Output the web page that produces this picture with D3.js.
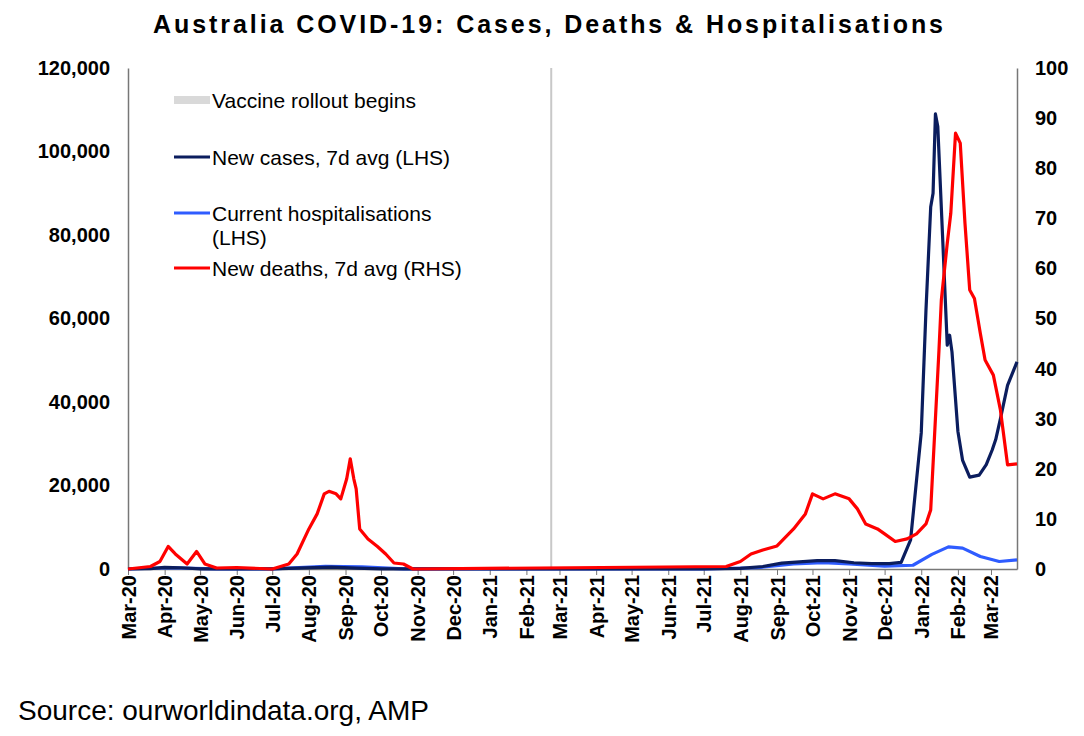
<!DOCTYPE html>
<html><head><meta charset="utf-8">
<script src="https://cdn.jsdelivr.net/npm/d3@7"></script>
<style>body{margin:0;background:#fff;font-family:Arial,"Liberation Sans",sans-serif}</style>
</head><body><svg id="c" width="1084" height="736"></svg>
<script>
// new cases, 7d avg (LHS)
const caseDates = ["2020-03-01","2020-03-20","2020-04-01","2020-04-15","2020-05-01","2020-07-01","2020-08-05","2020-08-20","2020-09-10","2020-10-01","2021-07-01","2021-08-01","2021-08-20","2021-09-05","2021-09-20","2021-10-05","2021-10-20","2021-11-05","2021-11-20","2021-12-05","2021-12-15","2021-12-23","2022-01-01","2022-01-05","2022-01-09","2022-01-11","2022-01-13","2022-01-15","2022-01-19","2022-01-23","2022-01-25","2022-01-27","2022-02-01","2022-02-05","2022-02-11","2022-02-19","2022-02-25","2022-03-02","2022-03-05","2022-03-09","2022-03-15","2022-03-23"];
const caseValues = [0,100,400,300,50,50,350,450,200,20,30,150,600,1400,1700,2000,2000,1500,1300,1300,1600,7000,32600,62000,86700,90000,109000,106000,80000,53600,56000,52000,33000,26000,22000,22500,25000,28500,31000,36000,44000,49600];
// current hospitalisations (LHS)
const hospDates = ["2020-03-01","2020-04-05","2020-05-15","2020-07-01","2020-08-15","2020-09-15","2020-10-20","2021-07-01","2021-08-15","2021-09-15","2021-10-10","2021-11-01","2021-12-01","2021-12-25","2022-01-10","2022-01-24","2022-02-05","2022-02-20","2022-03-08","2022-03-23"];
const hospValues = [0,300,50,50,650,500,50,50,300,1200,1500,1200,700,900,3500,5300,5000,3000,1800,2200];
// new deaths, 7d avg (RHS)
const deathDates = ["2020-03-01","2020-03-20","2020-03-28","2020-04-04","2020-04-10","2020-04-20","2020-04-28","2020-05-05","2020-05-15","2020-06-01","2020-07-01","2020-07-15","2020-07-22","2020-08-01","2020-08-08","2020-08-14","2020-08-18","2020-08-24","2020-08-28","2020-09-02","2020-09-05","2020-09-08","2020-09-10","2020-09-13","2020-09-20","2020-09-28","2020-10-05","2020-10-12","2020-10-20","2020-10-28","2021-07-20","2021-08-01","2021-08-10","2021-08-20","2021-09-01","2021-09-15","2021-09-25","2021-10-01","2021-10-10","2021-10-20","2021-11-01","2021-11-08","2021-11-15","2021-11-25","2021-12-01","2021-12-10","2021-12-20","2021-12-28","2022-01-05","2022-01-09","2022-01-16","2022-01-18","2022-01-23","2022-01-26","2022-01-30","2022-02-03","2022-02-07","2022-02-11","2022-02-15","2022-02-20","2022-02-24","2022-03-03","2022-03-09","2022-03-15","2022-03-23"];
const deathValues = [0,0.5,1.5,4.5,3,1,3.5,1,0.2,0.3,0,1,3,8,11,15,15.5,15,14,18,22,18,16,8,6,4.5,3,1.2,1,0,0.5,1.5,3,3.8,4.6,8,11,15,14,15,14,12,9,8,7,5.5,6,7,9,11.8,43.7,53.7,65,71,87,85,69,55.7,54,47,41.7,38.7,31.7,20.8,21];

const leftTicks = [0,20000,40000,60000,80000,100000,120000];
const rightTicks = [0,10,20,30,40,50,60,70,80,90,100];
const vaccineDate = "2021-02-22";

const parse = d3.timeParse("%Y-%m-%d");
const svg = d3.select("#c");
const L = 128, R = 1017, T = 68, B = 569;
const FONT = "Arial, Liberation Sans, sans-serif";

const x = d3.scaleTime().domain([parse("2020-03-01"), parse("2022-03-23")]).range([L, R]);
const yL = d3.scaleLinear().domain([0, 120000]).range([B, T]);
const yR = d3.scaleLinear().domain([0, 100]).range([B, T]);

svg.append("text").attr("x", 153).attr("y", 33)
  .attr("font-size", 25).attr("font-weight", "bold").attr("textLength", 790).attr("lengthAdjust", "spacing")
  .text("Australia COVID-19: Cases, Deaths & Hospitalisations");

// vaccine line
svg.append("line").attr("x1", x(parse(vaccineDate))).attr("x2", x(parse(vaccineDate)))
  .attr("y1", T).attr("y2", B).attr("stroke", "#c8c8c8").attr("stroke-width", 2);

const months = d3.timeMonth.range(parse("2020-03-01"), parse("2022-03-24"));
const xAxis = svg.append("g").attr("transform", `translate(0,${B})`)
  .call(d3.axisBottom(x).tickValues(months).tickFormat(d3.timeFormat("%b-%y")).tickSize(6).tickSizeOuter(0));
xAxis.selectAll("text").attr("transform", "rotate(-90)").attr("text-anchor", "end")
  .attr("x", -6).attr("y", 0).attr("dy", "0.35em").attr("font-size", 20).attr("font-weight", "bold")
  .attr("font-family", FONT).attr("fill", "#000");

const left = svg.append("g").attr("transform", `translate(${L},0)`)
  .call(d3.axisLeft(yL).tickValues(leftTicks).tickFormat(d3.format(",")).tickSize(0).tickPadding(18));
const right = svg.append("g").attr("transform", `translate(${R},0)`)
  .call(d3.axisRight(yR).tickValues(rightTicks).tickSize(0).tickPadding(18));
[left, right].forEach(g => g.selectAll("text").attr("font-size", 20).attr("font-weight", "bold")
  .attr("font-family", FONT).attr("fill", "#000"));
svg.selectAll(".domain").attr("stroke", "#777").attr("stroke-width", 1.5);
xAxis.selectAll(".tick line").attr("stroke", "#777");

function series(dates, values, y, color) {
  const data = dates.map((d, i) => [parse(d), values[i]]);
  svg.append("path").datum(data).attr("fill", "none").attr("stroke", color).attr("stroke-width", 3.2)
    .attr("stroke-linejoin", "round")
    .attr("d", d3.line().x(d => x(d[0])).y(d => y(d[1])));
}
series(hospDates, hospValues, yL, "#2f5cff");
series(caseDates, caseValues, yL, "#0b1d5e");
series(deathDates, deathValues, yR, "#ff0000");

// legend
const legend = [
  {label: ["Vaccine rollout begins"], color: "#d9d9d9", w: 8, y: 100},
  {label: ["New cases, 7d avg (LHS)"], color: "#0b1d5e", w: 3, y: 157},
  {label: ["Current hospitalisations", "(LHS)"], color: "#2f5cff", w: 3, y: 213},
  {label: ["New deaths, 7d avg (RHS)"], color: "#ff0000", w: 3, y: 268}
];
legend.forEach(l => {
  svg.append("line").attr("x1", 174).attr("x2", 210).attr("y1", l.y).attr("y2", l.y)
    .attr("stroke", l.color).attr("stroke-width", l.w);
  l.label.forEach((t, i) => svg.append("text").attr("x", 212).attr("y", l.y + 8 + i * 24)
    .attr("font-size", 21).text(t));
});

svg.append("text").attr("x", 18).attr("y", 720).attr("font-size", 28).text("Source: ourworldindata.org, AMP");
</script></body></html>
